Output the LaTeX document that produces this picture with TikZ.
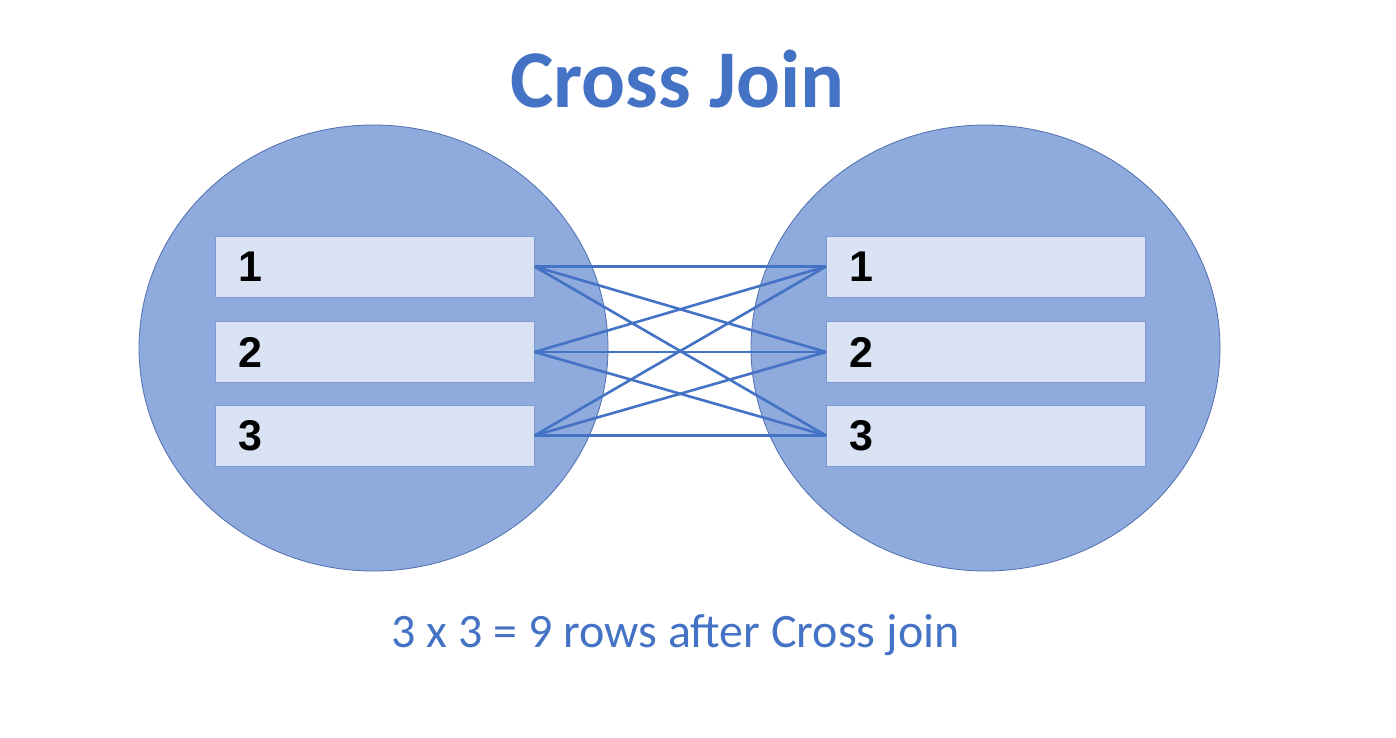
\documentclass[tikz,border=0pt]{standalone}
\usepackage{fontspec}
\setmainfont{Carlito}
\newfontfamily\numfont{Liberation Sans}
\usetikzlibrary{shapes.geometric}
\definecolor{joinblue}{HTML}{4472C4}
\definecolor{setfill}{HTML}{8FAADC}
\definecolor{setline}{HTML}{4F6FAE}
\definecolor{rowfill}{HTML}{DAE3F3}
\definecolor{rowline}{HTML}{7F9BD2}

\begin{document}
\begin{tikzpicture}[x=1pt, y=-1pt,
                set/.style = {ellipse, fill=setfill, draw=setline, line width=0.8pt,
                              minimum width=469pt, minimum height=446pt, inner sep=0pt},
                row/.style = {rectangle, fill=rowfill, draw=rowline, line width=1pt,
                              minimum height=61pt, text width=273pt, inner xsep=23pt,
                              inner ysep=0pt, align=left, font=\numfont\bfseries\fontsize{43}{48}\selectfont},
                link/.style = {draw=joinblue, line width=2.6pt}]
                \useasboundingbox (0,0) rectangle (1396,738);
                % title
                \node[anchor=base, text=joinblue, font=\bfseries\fontsize{82}{98}\selectfont] (title) at (677.5,108) {Cross Join};
                % the two tables
                \node[set] (lset) at (373.5,348) {};
                \node[set] (rset) at (985.5,348) {};
                \node[row] (l1) at (374.5,266.5) {1};
                \node[row] (l2) at (374.5,352) {2};
                \node[row] (l3) at (374.5,435.5) {3};
                \node[row] (r1) at (986,266.5) {1};
                \node[row] (r2) at (986,352) {2};
                \node[row] (r3) at (986,435.5) {3};
                % every row with every row
                \foreach \i in {1,2,3}
                    \foreach \j in {1,2,3}
                        \draw[link] (l\i.east) -- (r\j.west);
                \node[anchor=base, text=joinblue, font=\fontsize{48}{58}\selectfont] (note) at (675.5,647) {3 x 3 = 9 rows after Cross join};
            \end{tikzpicture}
\end{document}
